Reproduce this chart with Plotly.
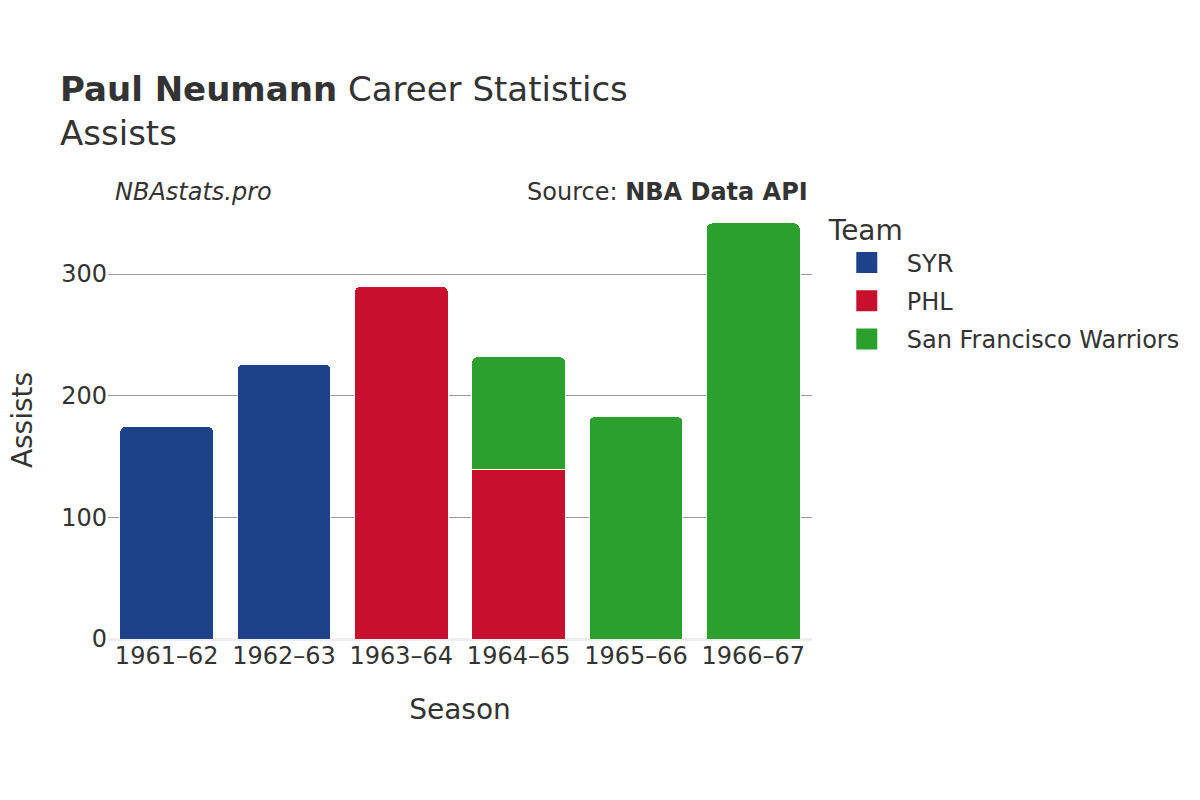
import plotly.graph_objects as go

# season labels and assists per team
seasons = ["1961–62", "1962–63", "1963–64", "1964–65", "1965–66", "1966–67"]
teams = ["SYR", "PHL", "San Francisco Warriors"]
syr_assists = [175, 226, None, None, None, None]
phl_assists = [None, None, 290, 139, None, None]
sfw_assists = [None, None, None, 93, 183, 342]
team_colors = ["#1D428A", "#C8102E", "#2CA02C"]

fig = go.Figure()
for name, vals, col in zip(teams, [syr_assists, phl_assists, sfw_assists], team_colors):
    fig.add_trace(go.Bar(
        x=seasons, y=vals, name=name, legendgroup=name, showlegend=False,
        marker=dict(color=col, line=dict(color="white", width=1)),
    ))
    # legend-only entry so the swatch is a big square like the original
    fig.add_trace(go.Scatter(
        x=[None], y=[None], name=name, legendgroup=name, mode="markers",
        marker=dict(symbol="square", size=16, color=col, line=dict(color=col, width=5)),
    ))

fig.update_layout(
    width=1200, height=800,
    barmode="stack",
    bargap=0.2,
    barcornerradius=6,
    plot_bgcolor="white",
    paper_bgcolor="white",
    font=dict(family="DejaVu Sans", color="#333333", size=24),
    title=dict(
        text="<b>Paul Neumann</b> Career Statistics<br>Assists",
        x=0.05, xanchor="left", y=0.874, yanchor="bottom",
        font=dict(size=34, color="#333333"),
    ),
    margin=dict(l=108, r=388, t=201, b=161),
    legend=dict(
        title=dict(text="Team", font=dict(size=28)),
        x=1.021, xanchor="left", y=0.993, yanchor="top",
        font=dict(size=24),
        itemwidth=70,
        tracegroupgap=4,
        traceorder="grouped",
    ),
    xaxis=dict(
        title=dict(text="Season", font=dict(size=28), standoff=30),
        showgrid=False,
        tickfont=dict(size=24),
    ),
    yaxis=dict(
        title=dict(text="Assists", font=dict(size=28), standoff=20),
        showgrid=True, gridcolor="#999999", gridwidth=1,
        zeroline=True, zerolinecolor="#eeeeee", zerolinewidth=3,
        tickvals=[0, 100, 200, 300],
        tickfont=dict(size=24),
    ),
    annotations=[
        dict(text="<i>NBAstats.pro</i>", xref="paper", yref="paper",
             x=0.0, y=1.02, xanchor="left", yanchor="middle", xshift=5,
             showarrow=False, font=dict(size=24, color="#333333")),
        dict(text="Source: <b>NBA Data API</b>", xref="paper", yref="paper",
             x=1.0, y=1.02, xanchor="right", yanchor="middle", xshift=-2,
             showarrow=False, font=dict(size=24, color="#333333")),
    ],
)

fig.write_html("out.html", config={"displayModeBar": False},
               post_script="document.body.style.margin='0px';")
